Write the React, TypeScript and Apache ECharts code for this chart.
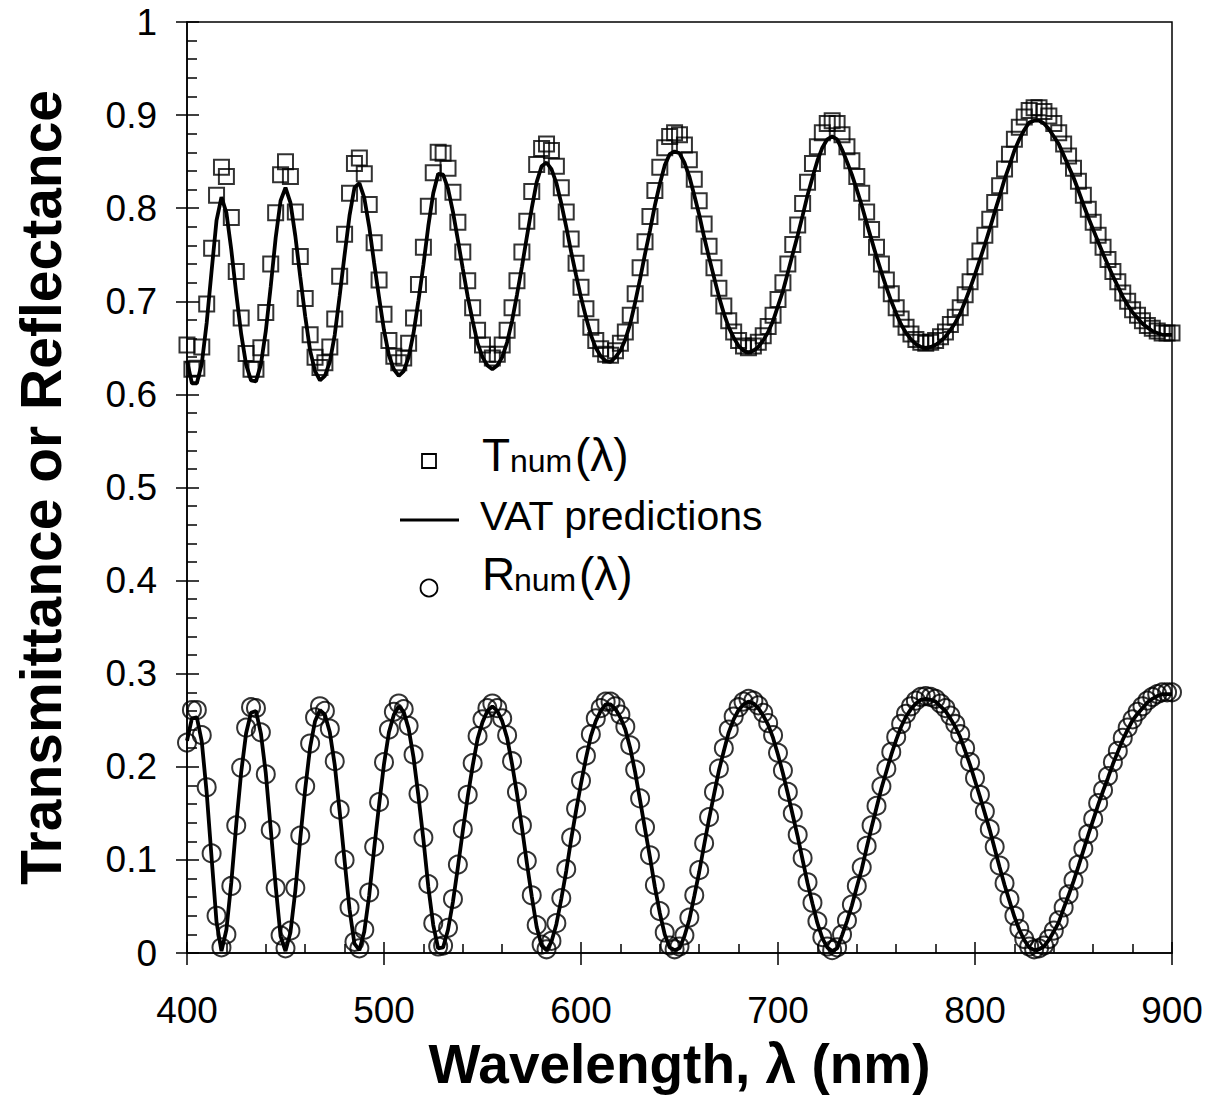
import React, { useEffect, useRef } from "react";
import * as echarts from "echarts";

// Wavelength sampling (nm): 400 to 900 in 2.5 nm steps (201 samples)
const LAMBDA_START = 400;
const LAMBDA_STEP = 2.5;

// Numerical transmittance T_num(λ) (squares)
const tNum = [
  0.653, 0.627, 0.628, 0.651, 0.697, 0.757, 0.814, 0.844, 0.834, 0.790,
  0.732, 0.682, 0.644, 0.627, 0.627, 0.650, 0.688, 0.740, 0.795, 0.836,
  0.850, 0.834, 0.796, 0.748, 0.703, 0.664, 0.640, 0.629, 0.634, 0.651,
  0.681, 0.727, 0.772, 0.816, 0.848, 0.854, 0.837, 0.804, 0.763, 0.723,
  0.686, 0.658, 0.641, 0.634, 0.639, 0.655, 0.682, 0.718, 0.758, 0.802,
  0.838, 0.860, 0.859, 0.843, 0.817, 0.785, 0.753, 0.722, 0.693, 0.669,
  0.653, 0.643, 0.639, 0.643, 0.653, 0.669, 0.693, 0.722, 0.753, 0.786,
  0.818, 0.847, 0.864, 0.869, 0.862, 0.845, 0.822, 0.796, 0.767, 0.741,
  0.715, 0.692, 0.672, 0.658, 0.649, 0.643, 0.642, 0.647, 0.655, 0.667,
  0.685, 0.708, 0.736, 0.764, 0.791, 0.819, 0.844, 0.865, 0.877, 0.881,
  0.879, 0.868, 0.852, 0.831, 0.808, 0.783, 0.759, 0.736, 0.714, 0.695,
  0.679, 0.667, 0.658, 0.652, 0.650, 0.652, 0.656, 0.663, 0.673, 0.685,
  0.702, 0.720, 0.740, 0.761, 0.782, 0.805, 0.828, 0.848, 0.866, 0.881,
  0.891, 0.894, 0.891, 0.879, 0.866, 0.851, 0.834, 0.816, 0.796, 0.777,
  0.758, 0.740, 0.723, 0.708, 0.693, 0.681, 0.672, 0.665, 0.659, 0.656,
  0.655, 0.656, 0.658, 0.662, 0.667, 0.675, 0.683, 0.693, 0.707, 0.721,
  0.737, 0.754, 0.771, 0.788, 0.806, 0.824, 0.842, 0.858, 0.874, 0.887,
  0.898, 0.905, 0.908, 0.908, 0.904, 0.899, 0.891, 0.881, 0.869, 0.856,
  0.843, 0.829, 0.814, 0.799, 0.785, 0.771, 0.758, 0.745, 0.732, 0.721,
  0.709, 0.700, 0.691, 0.685, 0.679, 0.674, 0.671, 0.668, 0.666, 0.666, 0.666,
];

// Numerical reflectance R_num(λ) (circles)
const rNum = [
  0.226, 0.261, 0.261, 0.234, 0.178, 0.107, 0.040, 0.006, 0.020, 0.072,
  0.137, 0.199, 0.242, 0.264, 0.263, 0.237, 0.192, 0.132, 0.070, 0.019,
  0.005, 0.024, 0.070, 0.126, 0.179, 0.225, 0.253, 0.265, 0.260, 0.241,
  0.206, 0.154, 0.100, 0.049, 0.012, 0.005, 0.025, 0.065, 0.114, 0.162,
  0.205, 0.240, 0.259, 0.268, 0.262, 0.244, 0.213, 0.171, 0.124, 0.074,
  0.032, 0.007, 0.008, 0.027, 0.058, 0.095, 0.133, 0.170, 0.204, 0.233,
  0.251, 0.263, 0.268, 0.263, 0.252, 0.234, 0.206, 0.173, 0.137, 0.099,
  0.062, 0.030, 0.009, 0.004, 0.013, 0.032, 0.059, 0.090, 0.124, 0.155,
  0.185, 0.212, 0.235, 0.252, 0.263, 0.270, 0.270, 0.265, 0.256, 0.243,
  0.223, 0.197, 0.166, 0.135, 0.105, 0.073, 0.045, 0.022, 0.008, 0.004,
  0.007, 0.019, 0.038, 0.062, 0.089, 0.118, 0.146, 0.173, 0.198, 0.220,
  0.240, 0.254, 0.264, 0.270, 0.273, 0.271, 0.266, 0.258, 0.247, 0.234,
  0.215, 0.196, 0.173, 0.150, 0.127, 0.102, 0.076, 0.054, 0.034, 0.017,
  0.007, 0.003, 0.006, 0.020, 0.035, 0.052, 0.072, 0.092, 0.115, 0.137,
  0.158, 0.179, 0.198, 0.216, 0.232, 0.246, 0.257, 0.265, 0.271, 0.275,
  0.276, 0.275, 0.273, 0.268, 0.263, 0.255, 0.246, 0.235, 0.220, 0.205,
  0.188, 0.170, 0.152, 0.133, 0.114, 0.094, 0.075, 0.058, 0.040, 0.026,
  0.015, 0.007, 0.004, 0.005, 0.008, 0.015, 0.024, 0.035, 0.049, 0.063,
  0.078, 0.095, 0.112, 0.128, 0.144, 0.161, 0.175, 0.190, 0.205, 0.217,
  0.231, 0.242, 0.251, 0.259, 0.265, 0.271, 0.275, 0.278, 0.280, 0.280, 0.280,
];

// VAT predictions for transmittance (solid line)
const tVat = [
  0.636, 0.612, 0.612, 0.633, 0.677, 0.733, 0.787, 0.812, 0.795, 0.755,
  0.708, 0.665, 0.632, 0.615, 0.614, 0.632, 0.668, 0.716, 0.768, 0.808,
  0.822, 0.806, 0.770, 0.726, 0.684, 0.647, 0.625, 0.615, 0.620, 0.635,
  0.664, 0.706, 0.750, 0.792, 0.822, 0.827, 0.811, 0.780, 0.741, 0.704,
  0.669, 0.642, 0.627, 0.620, 0.625, 0.640, 0.666, 0.701, 0.739, 0.781,
  0.816, 0.837, 0.836, 0.821, 0.796, 0.766, 0.735, 0.705, 0.679, 0.655,
  0.640, 0.631, 0.627, 0.631, 0.640, 0.656, 0.679, 0.707, 0.737, 0.769,
  0.800, 0.828, 0.845, 0.849, 0.842, 0.827, 0.805, 0.780, 0.753, 0.728,
  0.704, 0.683, 0.664, 0.650, 0.641, 0.636, 0.635, 0.640, 0.647, 0.659,
  0.676, 0.699, 0.724, 0.751, 0.776, 0.803, 0.826, 0.846, 0.858, 0.861,
  0.859, 0.849, 0.834, 0.814, 0.793, 0.769, 0.747, 0.726, 0.705, 0.687,
  0.672, 0.661, 0.652, 0.647, 0.645, 0.647, 0.651, 0.658, 0.667, 0.679,
  0.695, 0.711, 0.731, 0.751, 0.771, 0.792, 0.814, 0.833, 0.851, 0.865,
  0.874, 0.877, 0.874, 0.863, 0.850, 0.836, 0.820, 0.803, 0.784, 0.766,
  0.748, 0.731, 0.715, 0.700, 0.687, 0.675, 0.666, 0.659, 0.654, 0.651,
  0.650, 0.651, 0.653, 0.657, 0.662, 0.669, 0.677, 0.687, 0.700, 0.714,
  0.729, 0.745, 0.761, 0.778, 0.796, 0.813, 0.831, 0.846, 0.862, 0.874,
  0.884, 0.892, 0.894, 0.894, 0.891, 0.885, 0.877, 0.869, 0.857, 0.845,
  0.833, 0.819, 0.804, 0.790, 0.777, 0.764, 0.751, 0.739, 0.727, 0.716,
  0.705, 0.696, 0.688, 0.682, 0.676, 0.672, 0.668, 0.666, 0.664, 0.664, 0.664,
];

// VAT predictions for reflectance (solid line)
const rVat = [
  0.228, 0.252, 0.253, 0.227, 0.172, 0.102, 0.033, 0.002, 0.025, 0.076,
  0.138, 0.194, 0.236, 0.258, 0.260, 0.236, 0.193, 0.133, 0.072, 0.018,
  0.002, 0.022, 0.067, 0.123, 0.176, 0.221, 0.249, 0.261, 0.256, 0.237,
  0.202, 0.152, 0.099, 0.047, 0.010, 0.003, 0.023, 0.062, 0.112, 0.159,
  0.203, 0.237, 0.256, 0.265, 0.259, 0.241, 0.210, 0.168, 0.122, 0.071,
  0.030, 0.005, 0.006, 0.025, 0.055, 0.092, 0.131, 0.168, 0.201, 0.230,
  0.248, 0.260, 0.265, 0.260, 0.249, 0.231, 0.203, 0.171, 0.135, 0.097,
  0.061, 0.028, 0.008, 0.003, 0.012, 0.031, 0.058, 0.088, 0.122, 0.153,
  0.182, 0.209, 0.233, 0.249, 0.260, 0.267, 0.267, 0.262, 0.253, 0.240,
  0.220, 0.194, 0.164, 0.133, 0.103, 0.071, 0.043, 0.020, 0.006, 0.003,
  0.005, 0.018, 0.036, 0.061, 0.087, 0.116, 0.144, 0.170, 0.196, 0.217,
  0.237, 0.251, 0.261, 0.267, 0.270, 0.268, 0.263, 0.255, 0.245, 0.231,
  0.213, 0.193, 0.171, 0.148, 0.125, 0.100, 0.075, 0.053, 0.032, 0.016,
  0.006, 0.002, 0.005, 0.019, 0.034, 0.051, 0.071, 0.090, 0.113, 0.135,
  0.156, 0.177, 0.195, 0.213, 0.229, 0.243, 0.254, 0.262, 0.268, 0.272,
  0.273, 0.272, 0.270, 0.265, 0.260, 0.252, 0.243, 0.232, 0.217, 0.202,
  0.185, 0.168, 0.150, 0.132, 0.112, 0.092, 0.073, 0.056, 0.039, 0.025,
  0.014, 0.006, 0.003, 0.004, 0.007, 0.014, 0.023, 0.033, 0.048, 0.062,
  0.077, 0.093, 0.110, 0.127, 0.143, 0.159, 0.174, 0.188, 0.203, 0.216,
  0.229, 0.240, 0.250, 0.257, 0.263, 0.269, 0.273, 0.276, 0.278, 0.278, 0.278,
];

const X_TICKS = [400, 500, 600, 700, 800, 900];
const Y_TICKS = [0, 0.1, 0.2, 0.3, 0.4, 0.5, 0.6, 0.7, 0.8, 0.9, 1];

const FONT = "'Liberation Sans', Arial, Helvetica, sans-serif";

const pairs = (vals: number[]) =>
  vals.map((v, i) => [LAMBDA_START + LAMBDA_STEP * i, v]);

export default function App() {
  const ref = useRef<HTMLDivElement>(null);

  useEffect(() => {
    if (!ref.current) return;
    const chart = echarts.init(ref.current, null, { renderer: "svg" });
    const black = "#000";
    const tickLine = { color: black, width: 1.5 };

    const xBase = {
      type: "value",
      min: X_TICKS[0],
      max: X_TICKS[X_TICKS.length - 1],
      interval: 100,
      position: "bottom",
      splitLine: { show: false },
    };
    const yBase = {
      type: "value",
      min: Y_TICKS[0],
      max: Y_TICKS[Y_TICKS.length - 1],
      interval: 0.1,
      position: "left",
      splitLine: { show: false },
    };

    const option: any = {
      animation: false,
      backgroundColor: "#fff",
      grid: {
        left: 187,
        right: 46,
        top: 22,
        bottom: 148,
        show: true,
        borderColor: black,
        borderWidth: 1.5,
        backgroundColor: "transparent",
      },
      xAxis: [
        {
          ...xBase,
          axisLine: { show: true, onZero: false, lineStyle: tickLine },
          axisTick: { show: true, inside: false, length: 12, lineStyle: tickLine },
          axisLabel: {
            show: true,
            margin: 39,
            color: black,
            fontFamily: FONT,
            fontSize: 37,
          },
          name: "Wavelength, λ (nm)",
          nameLocation: "middle",
          nameGap: 83,
          nameTextStyle: {
            color: black,
            fontFamily: FONT,
            fontWeight: "bold",
            fontSize: 55,
          },
        },
        {
          ...xBase,
          axisLine: { show: false, onZero: false },
          axisTick: { show: true, inside: true, length: 11, lineStyle: tickLine },
          minorTick: { show: true, splitNumber: 5, length: 9, lineStyle: tickLine },
          axisLabel: { show: false },
        },
      ],
      yAxis: [
        {
          ...yBase,
          axisLine: { show: true, onZero: false, lineStyle: tickLine },
          axisTick: { show: true, inside: false, length: 11, lineStyle: tickLine },
          axisLabel: {
            show: true,
            margin: 30,
            color: black,
            fontFamily: FONT,
            fontSize: 37,
            formatter: (v: number) => String(Math.round(v * 10) / 10),
          },
          name: "Transmittance or Reflectance",
          nameLocation: "middle",
          nameGap: 118,
          nameTextStyle: {
            color: black,
            fontFamily: FONT,
            fontWeight: "bold",
            fontSize: 57,
          },
        },
        {
          ...yBase,
          axisLine: { show: false, onZero: false },
          axisTick: { show: true, inside: true, length: 12, lineStyle: tickLine },
          minorTick: { show: true, splitNumber: 5, length: 10, lineStyle: tickLine },
          axisLabel: { show: false },
        },
      ],
      series: [
        {
          name: "T_num",
          type: "scatter",
          xAxisIndex: 0,
          yAxisIndex: 0,
          data: pairs(tNum),
          symbol: "rect",
          symbolSize: 15,
          itemStyle: { color: "transparent", borderColor: black, borderWidth: 2 },
          z: 2,
        },
        {
          name: "R_num",
          type: "scatter",
          xAxisIndex: 0,
          yAxisIndex: 0,
          data: pairs(rNum),
          symbol: "circle",
          symbolSize: 18,
          itemStyle: { color: "transparent", borderColor: black, borderWidth: 2 },
          z: 2,
        },
        {
          name: "VAT predictions (T)",
          type: "line",
          xAxisIndex: 0,
          yAxisIndex: 0,
          data: pairs(tVat),
          showSymbol: false,
          symbol: "none",
          lineStyle: { color: black, width: 3.8 },
          z: 3,
        },
        {
          name: "VAT predictions (R)",
          type: "line",
          xAxisIndex: 0,
          yAxisIndex: 0,
          data: pairs(rVat),
          showSymbol: false,
          symbol: "none",
          lineStyle: { color: black, width: 3.8 },
          z: 3,
        },
      ],
      graphic: [
        {
          type: "rect",
          shape: { x: 422, y: 454, width: 14, height: 14 },
          style: { fill: "none", stroke: black, lineWidth: 1.8 },
        },
        {
          type: "text",
          x: 482,
          y: 455,
          style: { text: "T", font: `46px ${FONT}`, fill: black, verticalAlign: "middle", align: "left" },
        },
        {
          type: "text",
          x: 510,
          y: 461,
          style: { text: "num", font: `32px ${FONT}`, fill: black, verticalAlign: "middle", align: "left" },
        },
        {
          type: "text",
          x: 575,
          y: 455,
          style: { text: "(λ)", font: `46px ${FONT}`, fill: black, verticalAlign: "middle", align: "left" },
        },
        {
          type: "line",
          shape: { x1: 400, y1: 520, x2: 459, y2: 520 },
          style: { stroke: black, lineWidth: 3 },
        },
        {
          type: "text",
          x: 480,
          y: 516,
          style: { text: "VAT predictions", font: `41px ${FONT}`, fill: black, verticalAlign: "middle", align: "left" },
        },
        {
          type: "circle",
          shape: { cx: 429, cy: 588, r: 8.5 },
          style: { fill: "none", stroke: black, lineWidth: 1.8 },
        },
        {
          type: "text",
          x: 482,
          y: 574,
          style: { text: "R", font: `46px ${FONT}`, fill: black, verticalAlign: "middle", align: "left" },
        },
        {
          type: "text",
          x: 514,
          y: 580,
          style: { text: "num", font: `32px ${FONT}`, fill: black, verticalAlign: "middle", align: "left" },
        },
        {
          type: "text",
          x: 579,
          y: 574,
          style: { text: "(λ)", font: `46px ${FONT}`, fill: black, verticalAlign: "middle", align: "left" },
        },
      ],
    };

    chart.setOption(option);
    return () => chart.dispose();
  }, []);

  return (
    <div
      ref={ref}
      style={{ position: "absolute", left: 0, top: 0, width: 1218, height: 1101, background: "#fff" }}
    />
  );
}
